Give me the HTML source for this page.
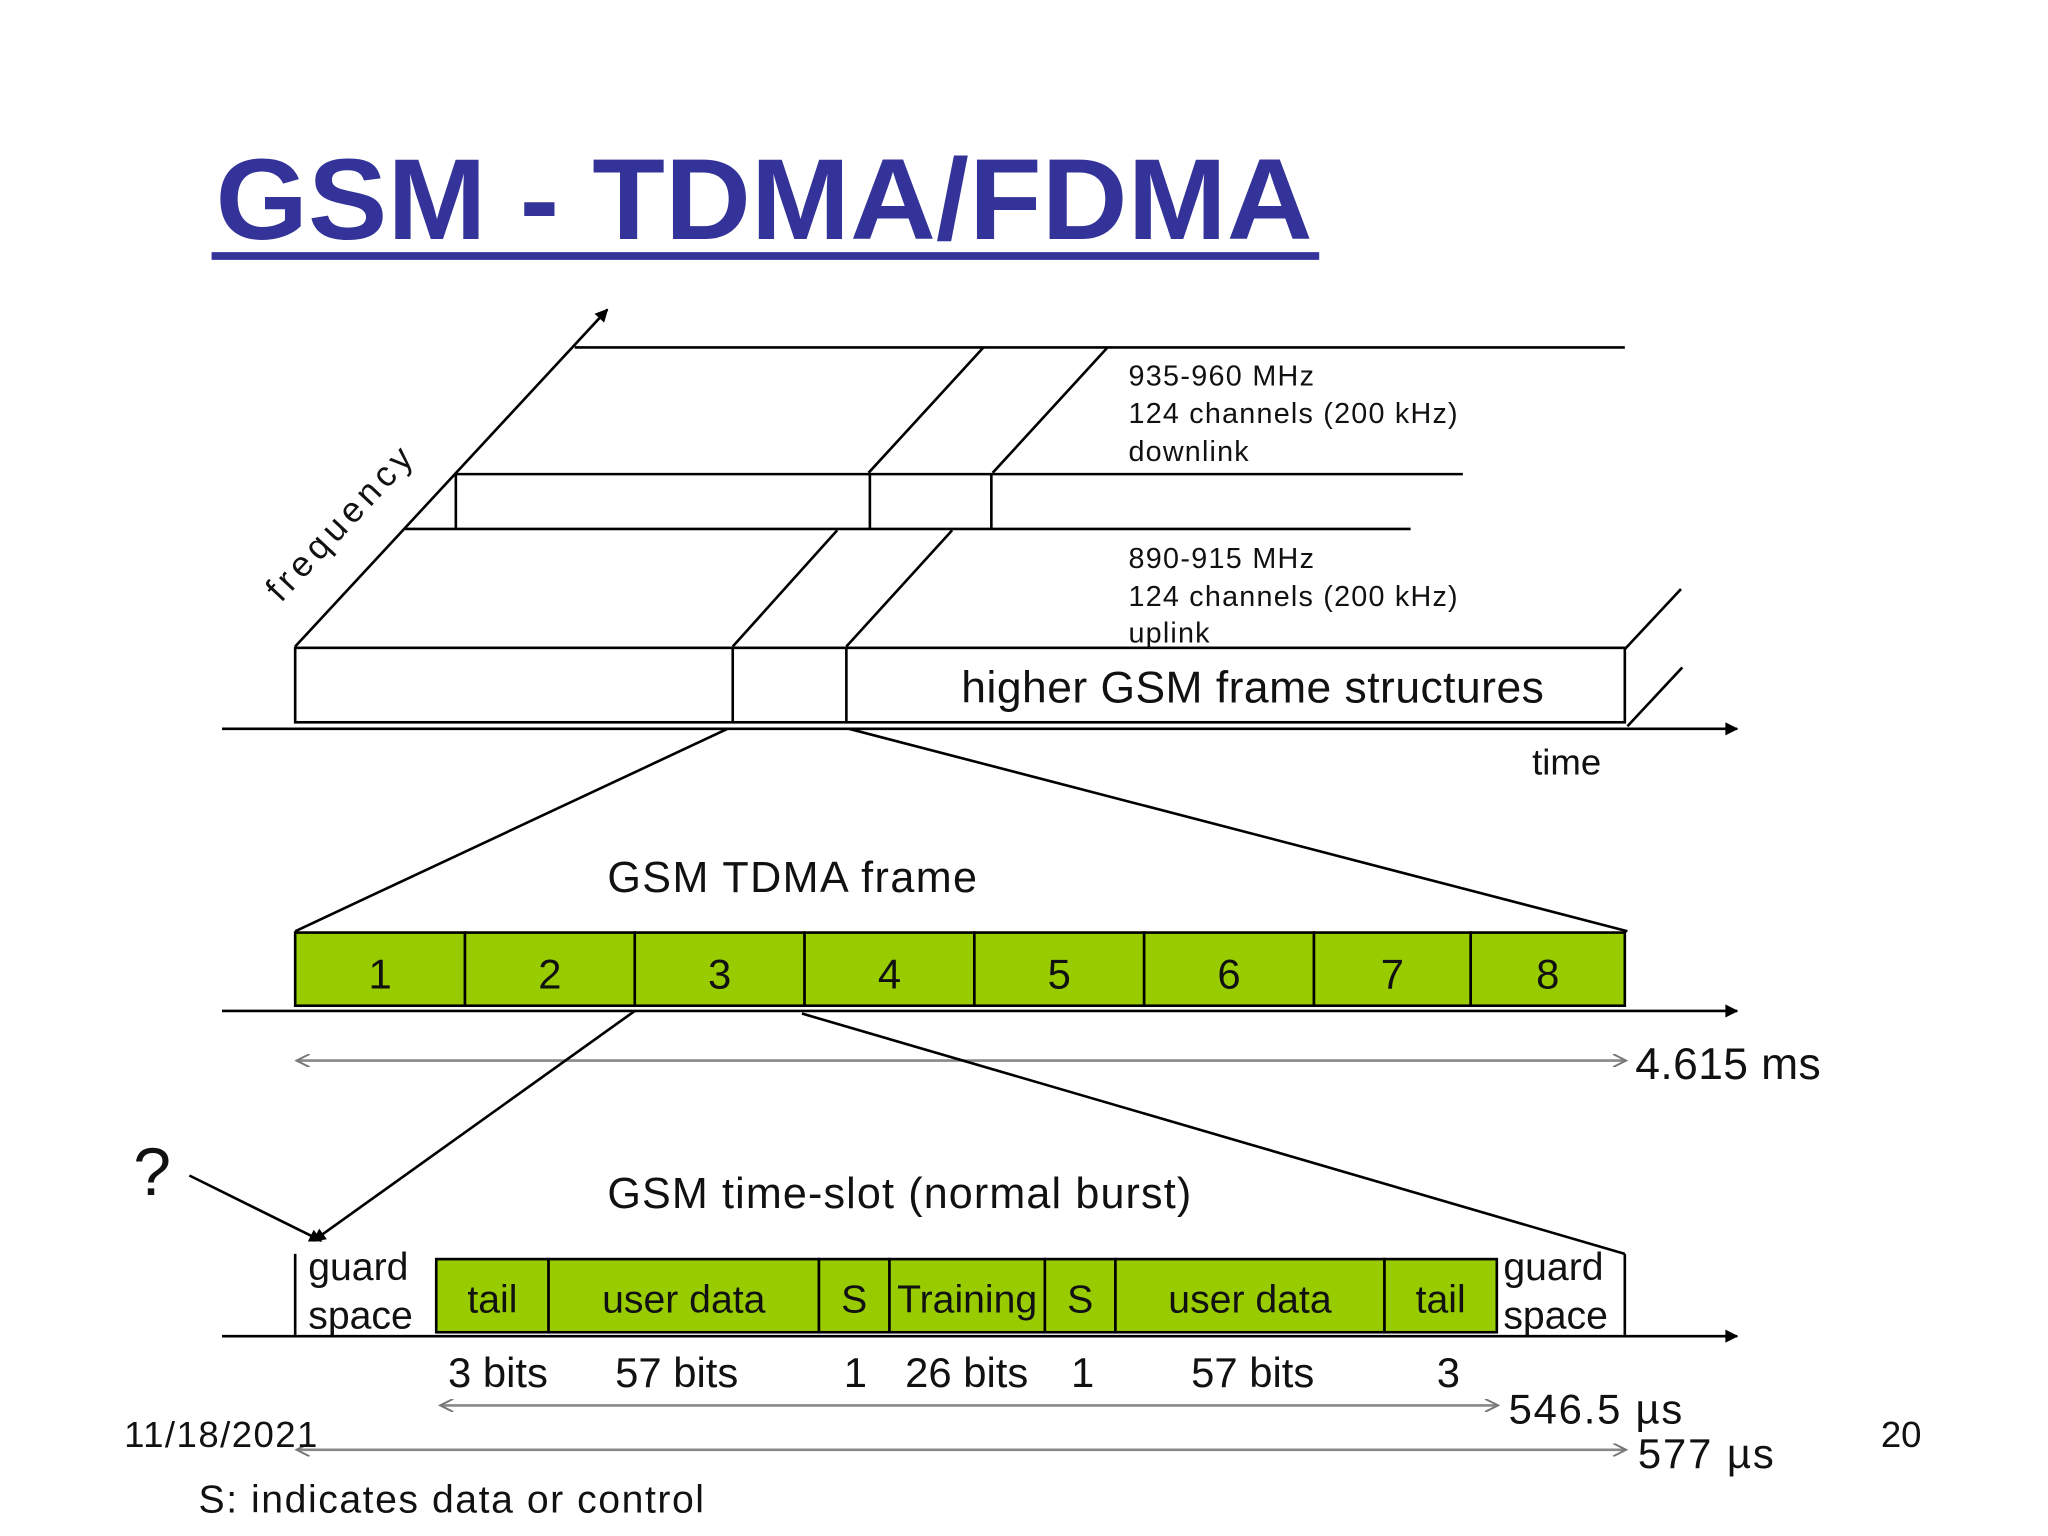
<!DOCTYPE html>
<html><head><meta charset="utf-8"><style>
html,body{margin:0;padding:0;background:#fff;}
svg{display:block;}
text{font-family:"Liberation Sans",sans-serif;fill:#111;}
</style></head><body>
<svg width="2048" height="1536" viewBox="0 0 1568 1176" xmlns="http://www.w3.org/2000/svg">
<defs>
<marker id="ah" viewBox="0 0 10 10" refX="9" refY="5" markerWidth="14" markerHeight="10" markerUnits="userSpaceOnUse" orient="auto-start-reverse"><path d="M0,0 L10,5 L0,10 z" fill="#000"/></marker>
<marker id="ag" viewBox="0 0 10 10" refX="9" refY="5" markerWidth="16" markerHeight="10" markerUnits="userSpaceOnUse" orient="auto-start-reverse"><path d="M0,0 L10,5 L0,10" fill="none" stroke="#777" stroke-width="1.5"/></marker>
</defs>
<rect width="1568" height="1176" fill="#fff"/>
<text x="165" y="183" font-size="88" textLength="840" lengthAdjust="spacingAndGlyphs" style="fill:#333399;font-weight:bold">GSM - TDMA/FDMA</text>
<line x1="162" y1="196" x2="1010" y2="196" stroke="#333399" stroke-width="6"/>

<g stroke="#000" stroke-width="2" fill="none">
<line x1="226" y1="495" x2="465" y2="237" marker-end="url(#ah)"/>
<line x1="440" y1="266" x2="1244" y2="266"/>
<line x1="349" y1="363" x2="1120" y2="363"/>
<line x1="310" y1="405" x2="1080" y2="405"/>
<line x1="349" y1="363" x2="349" y2="405"/>
<line x1="753" y1="266" x2="665" y2="362"/>
<line x1="848" y1="266" x2="760" y2="362"/>
<line x1="666" y1="363" x2="666" y2="405"/>
<line x1="759" y1="363" x2="759" y2="405"/>
<line x1="641" y1="406" x2="561" y2="495"/>
<line x1="729" y1="406" x2="648" y2="495"/>
<rect x="226" y="496" width="1018" height="57"/>
<line x1="561" y1="496" x2="561" y2="553"/>
<line x1="648" y1="496" x2="648" y2="553"/>
<line x1="1287" y1="451" x2="1244" y2="497"/>
<line x1="1288" y1="511" x2="1246" y2="556"/>
<line x1="170" y1="558" x2="1330" y2="558" marker-end="url(#ah)"/>
<line x1="557" y1="558" x2="226" y2="713"/>
<line x1="650" y1="558" x2="1246" y2="713"/>
</g>
<text x="0" y="0" font-size="27" textLength="150" transform="translate(215,462) rotate(-47)">frequency</text>
<text x="1173" y="593" font-size="28">time</text>
<text x="736" y="538" font-size="34" textLength="446">higher GSM frame structures</text>
<g>
<text x="864" y="295" font-size="22" textLength="142">935-960 MHz</text>
<text x="864" y="324" font-size="22" textLength="252">124 channels (200 kHz)</text>
<text x="864" y="353" font-size="22" textLength="92">downlink</text>
</g>
<g>
<text x="864" y="435" font-size="22" textLength="142">890-915 MHz</text>
<text x="864" y="464" font-size="22" textLength="252">124 channels (200 kHz)</text>
<text x="864" y="492" font-size="22" textLength="62">uplink</text>
</g>

<text x="465" y="683" font-size="33" textLength="283">GSM TDMA frame</text>
<g id="slots"></g>
<line x1="170" y1="774" x2="1330" y2="774" stroke="#000" stroke-width="2" marker-end="url(#ah)"/>
<line x1="228" y1="812" x2="1244" y2="812" stroke="#888" stroke-width="2" marker-start="url(#ag)" marker-end="url(#ag)"/>
<text x="1252" y="826" font-size="34" textLength="142">4.615 ms</text>
<line x1="486" y1="774" x2="240" y2="950" stroke="#000" stroke-width="2" marker-end="url(#ah)"/>
<line x1="614" y1="776" x2="1244" y2="960" stroke="#000" stroke-width="2"/>
<text x="102" y="915" font-size="52">?</text>
<line x1="145" y1="900" x2="246" y2="950" stroke="#000" stroke-width="2" marker-end="url(#ah)"/>

<text x="465" y="925" font-size="33" textLength="447">GSM time-slot (normal burst)</text>
<line x1="226" y1="960" x2="226" y2="1022" stroke="#000" stroke-width="2"/>
<line x1="1244" y1="960" x2="1244" y2="1022" stroke="#000" stroke-width="2"/>
<g><text x="236" y="980" font-size="30">guard</text><text x="236" y="1017" font-size="30">space</text></g>
<g><text x="1151" y="980" font-size="30">guard</text><text x="1151" y="1017" font-size="30">space</text></g>
<g id="burst"></g>
<line x1="170" y1="1023" x2="1330" y2="1023" stroke="#000" stroke-width="2" marker-end="url(#ah)"/>
<g id="bits"></g>
<line x1="338" y1="1076" x2="1146" y2="1076" stroke="#888" stroke-width="2" marker-start="url(#ag)" marker-end="url(#ag)"/>
<text x="1155" y="1090" font-size="32" textLength="133">546.5 µs</text>
<line x1="228" y1="1110" x2="1244" y2="1110" stroke="#888" stroke-width="2" marker-start="url(#ag)" marker-end="url(#ag)"/>
<text x="1254" y="1124" font-size="32" textLength="104">577 µs</text>
<text x="95" y="1108" font-size="28" textLength="148">11/18/2021</text>
<text x="1440" y="1108" font-size="28">20</text>
<text x="152" y="1158" font-size="30" textLength="387">S: indicates data or control</text>
</svg>
<script>
const NS='http://www.w3.org/2000/svg';
const slotLabels=['1','2','3','4','5','6','7','8'];
const slotEdges=[226,356,486,616,746,876,1006,1126,1244];
const burstLabels=['tail','user data','S','Training','S','user data','tail'];
const burstEdges=[334,420,627,681,800,854,1060,1146];
const bitLabels=['3 bits','57 bits','1','26 bits','1','57 bits','3'];
const bitX=[343,471,646,693,820,912,1100];
function mk(t,a,p){const e=document.createElementNS(NS,t);for(const k in a)e.setAttribute(k,a[k]);p.appendChild(e);return e;}
const sg=document.getElementById('slots');
slotLabels.forEach((l,i)=>{
  const r=mk('rect',{x:slotEdges[i],y:714,width:slotEdges[i+1]-slotEdges[i],height:56,fill:'#99cc00',stroke:'#000','stroke-width':2},sg);
  
  
  const t=mk('text',{x:(slotEdges[i]+slotEdges[i+1])/2,y:757,'font-size':32,'text-anchor':'middle'},sg);
  t.textContent=l;
  
  
});
const bg=document.getElementById('burst');
burstLabels.forEach((l,i)=>{
  const r=mk('rect',{x:burstEdges[i],y:964,width:burstEdges[i+1]-burstEdges[i],height:56,fill:'#99cc00',stroke:'#000','stroke-width':2},bg);
  
  
  const t=mk('text',{x:(burstEdges[i]+burstEdges[i+1])/2,y:1005,'font-size':30,'text-anchor':'middle'},bg);
  t.textContent=l;
  
  
});
const bt=document.getElementById('bits');
bitLabels.forEach((l,i)=>{
  const t=mk('text',{x:bitX[i],y:1062,'font-size':32},bt);
  t.textContent=l;
  
  
});
</script>
</body></html>
